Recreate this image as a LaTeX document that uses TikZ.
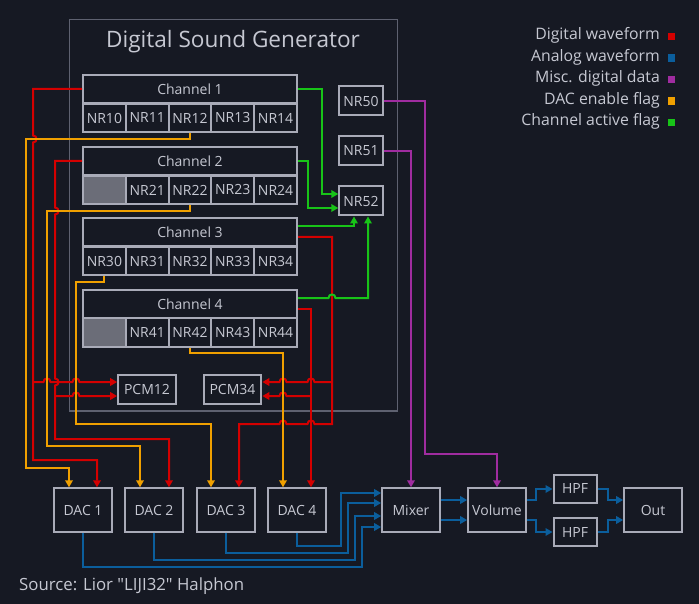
\documentclass[tikz,border=0pt]{standalone}
\usepackage{fontspec}
\setmainfont{Open Sans}
\font\srcq="Open Sans" at 16.8pt
\usetikzlibrary{arrows.meta,calc}
\definecolor{bg}{HTML}{161923}
\definecolor{boxc}{HTML}{A9ABB8}
\definecolor{txt}{HTML}{C6C8D2}
\definecolor{framec}{HTML}{5E6170}
\definecolor{cellgray}{HTML}{6B6D78}
\definecolor{wred}{HTML}{D40000}
\definecolor{wblue}{HTML}{0B5E9C}
\definecolor{wpurple}{HTML}{A02CA0}
\definecolor{worange}{HTML}{F0A000}
\definecolor{wgreen}{HTML}{18C418}
\newcommand\hopR[2]{-- (#1-3.5,#2) .. controls (#1-3.5,#2-4.7) and (#1+3.5,#2-4.7) .. (#1+3.5,#2)}
\newcommand\hopL[2]{-- (#1+3.5,#2) .. controls (#1+3.5,#2-4.7) and (#1-3.5,#2-4.7) .. (#1-3.5,#2)}
\newcommand\hopD[2]{-- (#1,#2-3.5) .. controls (#1+4.7,#2-3.5) and (#1+4.7,#2+3.5) .. (#1,#2+3.5)}
\tikzset{
  blk/.style={draw=boxc, line width=2pt, fill=bg, text=txt, inner sep=0pt,
    font=\fontsize{14}{16}\selectfont},
  chan/.style={blk, minimum width=214pt, minimum height=28.6pt},
  reg/.style={blk, minimum width=42.8pt, minimum height=28.6pt},
  small/.style={blk, minimum width=43.4pt, minimum height=29pt},
  pcm/.style={blk, minimum width=57.7pt, minimum height=29pt},
  big/.style={blk, minimum width=57.7pt, minimum height=43.4pt},
  wire/.style={line width=2pt, line join=miter},
  arr/.style={-{Triangle[length=7pt,width=7.5pt]}},
  legtxt/.style={text=txt, anchor=east, inner sep=0pt, font=\fontsize{15.8}{18}\selectfont},
  legsq/.style={minimum size=7.5pt, inner sep=0pt},
}
\begin{document}
\begin{tikzpicture}[x=1pt,y=-1pt]
\useasboundingbox (0,0) rectangle (699,604);
\fill[bg] (0,0) rectangle (699,604);

% frame
\node[draw=framec, line width=1.3pt, minimum width=328.5pt, minimum height=391.5pt, anchor=north west, inner sep=0pt] (dsg) at (68.5,18.7) {};
\node[text=txt, font=\fontsize{22.6}{26}\selectfont, inner sep=0pt] (title) at (233,41.5) {Digital Sound Generator};

% channels
\node[chan] (c1) at (190,89) {Channel 1};
\node[chan] (c2) at (190,161) {Channel 2};
\node[chan] (c3) at (190,232) {Channel 3};
\node[chan] (c4) at (190,304) {Channel 4};
\foreach \n/\xx in {0/104.4,1/147.2,2/190,3/232.8,4/275.6}{
  \node[reg] (r1\n) at (\xx,118) {NR1\n};
  \ifnum\n=0
    \node[reg, fill=cellgray] (r2\n) at (\xx,190) {};
  \else
    \node[reg] (r2\n) at (\xx,190) {NR2\n};
  \fi
  \node[reg] (r3\n) at (\xx,261) {NR3\n};
  \ifnum\n=0
    \node[reg, fill=cellgray] (r4\n) at (\xx,332.5) {};
  \else
    \node[reg] (r4\n) at (\xx,332.5) {NR4\n};
  \fi
}
\node[small] (nr50) at (361,101) {NR50};
\node[small] (nr51) at (361,151) {NR51};
\node[small] (nr52) at (361,201) {NR52};
\node[pcm] (pcm12) at (147,389) {PCM12};
\node[pcm] (pcm34) at (232.5,389) {PCM34};

\node[big] (dac1) at (83,510) {DAC 1};
\node[big] (dac2) at (154,510) {DAC 2};
\node[big] (dac3) at (226,510) {DAC 3};
\node[big] (dac4) at (297,510) {DAC 4};
\node[big] (mixer) at (411,510) {Mixer};
\node[big] (volume) at (497,510) {Volume};
\node[blk, minimum width=43pt, minimum height=28.7pt] (hpf1) at (575,489) {HPF};
\node[blk, minimum width=43pt, minimum height=28.7pt] (hpf2) at (575,532) {HPF};
\node[big] (out) at (653,510) {Out};

% ---- red wires (digital waveform)
\draw[wire, wred, arr] (c1.west) -- (33,89) \hopD{33}{139} -- (33,460) -- (97,460) -- (dac1.north -| 97,0);
\draw[wire, wred, arr] (33,382) \hopR{47}{382} \hopR{76}{382} -- (pcm12.west |- 0,382);
\draw[wire, wred, arr] (c2.west) -- (55,161) \hopD{55}{211} \hopD{55}{382} -- (55,439) -- (169,439) -- (dac2.north -| 169,0);
\draw[wire, wred, arr] (55,396) \hopR{76}{396} -- (pcm12.west |- 0,396);
\draw[wire, wred, arr] (c3.east |- 0,237) -- (332,237) -- (332,424) \hopL{311}{424} \hopL{283}{424} -- (239,424) -- (dac3.north -| 239,0);
\draw[wire, wred, arr] (332,382) \hopL{311}{382} \hopL{283}{382} -- (pcm34.east |- 0,382);
\draw[wire, wred, arr] (c4.east |- 0,309) -- (311,309) -- (dac4.north -| 311,0);
\draw[wire, wred, arr] (311,396) \hopL{283}{396} -- (pcm34.east |- 0,396);

% ---- orange wires (DAC enable flag)
\draw[wire, worange, arr] (r12.south) -- (190,139) -- (26,139) -- (26,468) -- (69,468) -- (dac1.north -| 69,0);
\draw[wire, worange, arr] (r22.south) -- (190,211) -- (47,211) -- (47,446) -- (140,446) -- (dac2.north -| 140,0);
\draw[wire, worange, arr] (r30.south) -- (104.4,282) -- (76,282) -- (76,424) -- (211,424) -- (dac3.north -| 211,0);
\draw[wire, worange, arr] (r42.south) -- (190,353) -- (283,353) -- (dac4.north -| 283,0);

% ---- green wires (channel active flag)
\draw[wire, wgreen, arr] (c1.east) -- (322,89) -- (322,194) -- (nr52.west |- 0,194);
\draw[wire, wgreen, arr] (c2.east) -- (308,161) -- (308,208) -- (nr52.west |- 0,208);
\draw[wire, wgreen, arr] (c3.east |- 0,226) -- (354,226) -- (nr52.south -| 354,0);
\draw[wire, wgreen, arr] (c4.east |- 0,298) \hopR{332}{298} -- (368,298) -- (nr52.south -| 368,0);

% ---- purple wires (misc. digital data)
\draw[wire, wpurple, arr] (nr50.east) -- (425,101) -- (425,454) -- (497,454) -- (volume.north);
\draw[wire, wpurple, arr] (nr51.east) -- (411,151) -- (mixer.north);

% ---- blue wires (analog waveform)
\draw[wire, wblue, arr] (dac1.south) -- (83,567) -- (362,567) -- (362,527) -- (mixer.west |- 0,527);
\draw[wire, wblue, arr] (dac2.south) -- (154,560) -- (355,560) -- (355,516) -- (mixer.west |- 0,516);
\draw[wire, wblue, arr] (dac3.south) -- (226,553) -- (348,553) -- (348,503) -- (mixer.west |- 0,503);
\draw[wire, wblue, arr] (dac4.south) -- (297,546) -- (341,546) -- (341,493) -- (mixer.west |- 0,493);
\draw[wire, wblue, arr] (mixer.east |- 0,500) -- (volume.west |- 0,500);
\draw[wire, wblue, arr] (mixer.east |- 0,520) -- (volume.west |- 0,520);
\draw[wire, wblue, arr] (volume.east |- 0,500) -- (536,500) -- (536,489) -- (hpf1.west);
\draw[wire, wblue, arr] (volume.east |- 0,520) -- (536,520) -- (536,532) -- (hpf2.west);
\draw[wire, wblue, arr] (hpf1.east) -- (608,489) -- (608,500) -- (out.west |- 0,500);
\draw[wire, wblue, arr] (hpf2.east) -- (608,532) -- (608,520) -- (out.west |- 0,520);

% ---- legend
\node[legtxt] (l1) at (660,35.7) {Digital waveform};
\node[legtxt] (l2) at (660,57.2) {Analog waveform};
\node[legtxt] (l3) at (660,78.7) {Misc. digital data};
\node[legtxt] (l4) at (660,100.2) {DAC enable flag};
\node[legtxt] (l5) at (660,121.7) {Channel active flag};
\node[legsq, fill=wred] (s1) at (671.3,36.5) {};
\node[legsq, fill=wblue] (s2) at (671.3,58) {};
\node[legsq, fill=wpurple] (s3) at (671.3,79.5) {};
\node[legsq, fill=worange] (s4) at (671.3,101) {};
\node[legsq, fill=wgreen] (s5) at (671.3,122.5) {};

\node[text=txt, anchor=west, inner sep=0pt, font=\fontsize{16.8}{19}\selectfont] (src) at (19,586.5) {Source: Lior {\srcq\char34}LIJI32{\srcq\char34} Halphon};
\end{tikzpicture}
\end{document}
